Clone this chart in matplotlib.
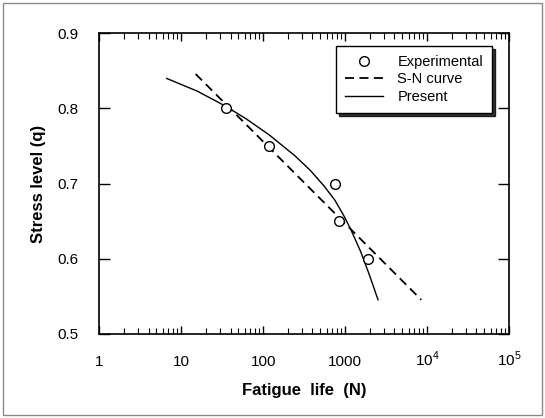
import numpy as np
import matplotlib
matplotlib.use("Agg")
import matplotlib.pyplot as plt
from matplotlib.patches import Rectangle
from matplotlib.ticker import LogLocator, FixedLocator, NullFormatter

plt.rcParams['font.family'] = ['Liberation Sans', 'DejaVu Sans']
plt.rcParams['mathtext.fontset'] = 'custom'
plt.rcParams['mathtext.rm'] = 'Liberation Sans'

# experimental points
exp_N = [35.5, 119, 757, 848, 1928]
exp_q = [0.80, 0.75, 0.70, 0.65, 0.60]

# S-N curve (straight line in semi-log)
sn_N = [15, 8500]
sn_q = [0.846, 0.545]

# present model curve
pr_N = [6.67, 15.8, 34.9, 62.5, 118, 244, 380, 560, 748, 955, 1159, 1552, 1982, 2523]
pr_q = [0.840, 0.823, 0.803, 0.786, 0.765, 0.737, 0.717, 0.696, 0.678, 0.658, 0.640, 0.609, 0.578, 0.545]

xticks = [1, 10, 100, 1000, 1e4, 1e5]
xticklabels = ["1", "10", "100", "1000", r"10$^4$", r"10$^5$"]
yticks = [0.5, 0.6, 0.7, 0.8, 0.9]

fig = plt.figure(figsize=(5.45, 4.18), dpi=100)
ax = fig.add_axes([0.182, 0.202, 0.752, 0.718])

# grey frame round the whole figure
fig.patches.append(Rectangle((0.006, 0.008), 0.988, 0.986, transform=fig.transFigure,
                             fill=False, edgecolor="#8a8a8a", lw=1.0))

ax.plot(exp_N, exp_q, 'o', mfc='white', mec='black', ms=7, mew=1.0, label="Experimental", zorder=3)
ax.plot(sn_N, sn_q, '--', color='black', lw=1.3, dashes=(5, 3), label="S-N curve")
ax.plot(pr_N, pr_q, '-', color='black', lw=1.0, label="Present")

ax.set_xscale('log')
ax.set_xlim(1, 1e5)
ax.set_ylim(0.5, 0.9)
ax.set_xticks(xticks)
ax.set_xticklabels(xticklabels)
ax.xaxis.set_minor_locator(LogLocator(base=10, subs=np.arange(2, 10)))
ax.xaxis.set_minor_formatter(NullFormatter())
ax.yaxis.set_major_locator(FixedLocator(yticks))
ax.set_yticklabels(["0.5", "0.6", "0.7", "0.8", "0.9"])

ax.tick_params(axis='x', which='major', direction='in', length=6, width=1, top=True, labelsize=11, pad=23.4)
ax.tick_params(axis='x', which='minor', direction='in', length=4, width=0.8, top=True)
ax.tick_params(axis='y', which='major', direction='in', length=8, width=1, right=True, labelsize=11, pad=15)
for lbl in ax.get_xticklabels():
    lbl.set_verticalalignment('baseline')
for s in ax.spines.values():
    s.set_linewidth(1.2)

ax.set_xlabel("Fatigue  life  (N)", fontsize=12, fontweight='bold', labelpad=10)
ax.set_ylabel("Stress level (q)", fontsize=12, fontweight='bold', labelpad=8)

leg = ax.legend(loc='upper right', bbox_to_anchor=(0.958, 0.958), fontsize=10.5,
                frameon=True, fancybox=False, shadow={'color': 'black', 'alpha': 0.8},
                edgecolor='black', framealpha=1, borderpad=0.6, labelspacing=0.25,
                handlelength=2.6, handletextpad=1.0, borderaxespad=0)
leg.get_frame().set_linewidth(1.0)

fig.savefig("out.png", dpi=100)
